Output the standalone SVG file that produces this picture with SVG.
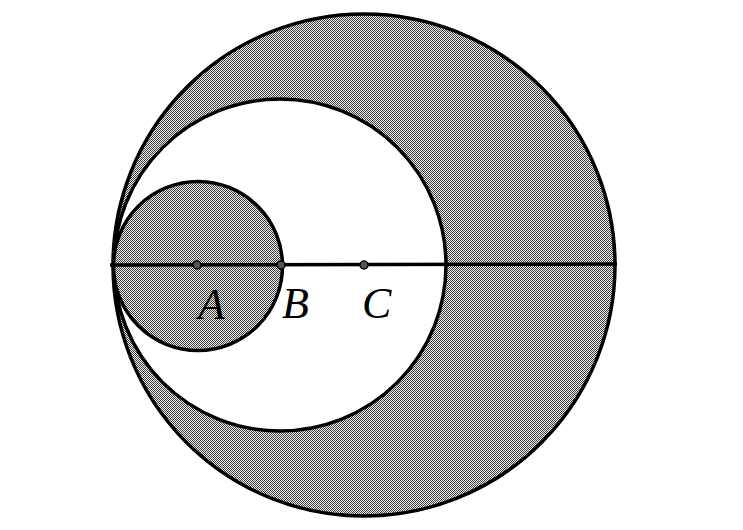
<svg xmlns="http://www.w3.org/2000/svg" width="743" height="530" viewBox="0 0 743 530">
<defs>
<pattern id="dots" width="4" height="4" patternUnits="userSpaceOnUse">
<rect width="4" height="4" fill="#f0f0f0"/>
<rect x="0" y="0" width="1" height="1" fill="#333"/>
<rect x="2" y="0" width="1" height="1" fill="#555"/>
<rect x="1" y="1" width="1" height="1" fill="#444"/>
<rect x="3" y="1" width="1" height="1" fill="#333"/>
<rect x="0" y="2" width="1" height="1" fill="#555"/>
<rect x="2" y="2" width="1" height="1" fill="#333"/>
<rect x="1" y="3" width="1" height="1" fill="#333"/>
<rect x="3" y="3" width="1" height="1" fill="#444"/>
</pattern>
<style>
.c{stroke:#000;stroke-width:3.5}
.pt{fill:#555;stroke:#000;stroke-width:1.5}
.lbl{font-family:"Liberation Serif",serif;font-style:italic;font-size:44px;fill:#000}
</style>
</defs>
<rect width="743" height="530" fill="#fff"/>
<g id="outer"><circle class="c" cx="364" cy="265" r="251" fill="url(#dots)"/></g>
<g id="middle"><circle class="c" cx="280" cy="265" r="166" fill="#fff"/></g>
<g id="small"><circle class="c" cx="198" cy="266" r="84.5" fill="url(#dots)"/></g>
<g id="connectors"><line x1="110" y1="265" x2="617" y2="264" stroke="#000" stroke-width="3.5"/></g>
<g id="A"><circle class="pt" cx="197" cy="265" r="4"/><text class="lbl" x="198" y="319">A</text></g>
<g id="B"><circle class="pt" cx="281" cy="265" r="4"/><text class="lbl" x="282" y="318">B</text></g>
<g id="C"><circle class="pt" cx="364" cy="265" r="4"/><text class="lbl" x="362" y="318">C</text></g>
</svg>
